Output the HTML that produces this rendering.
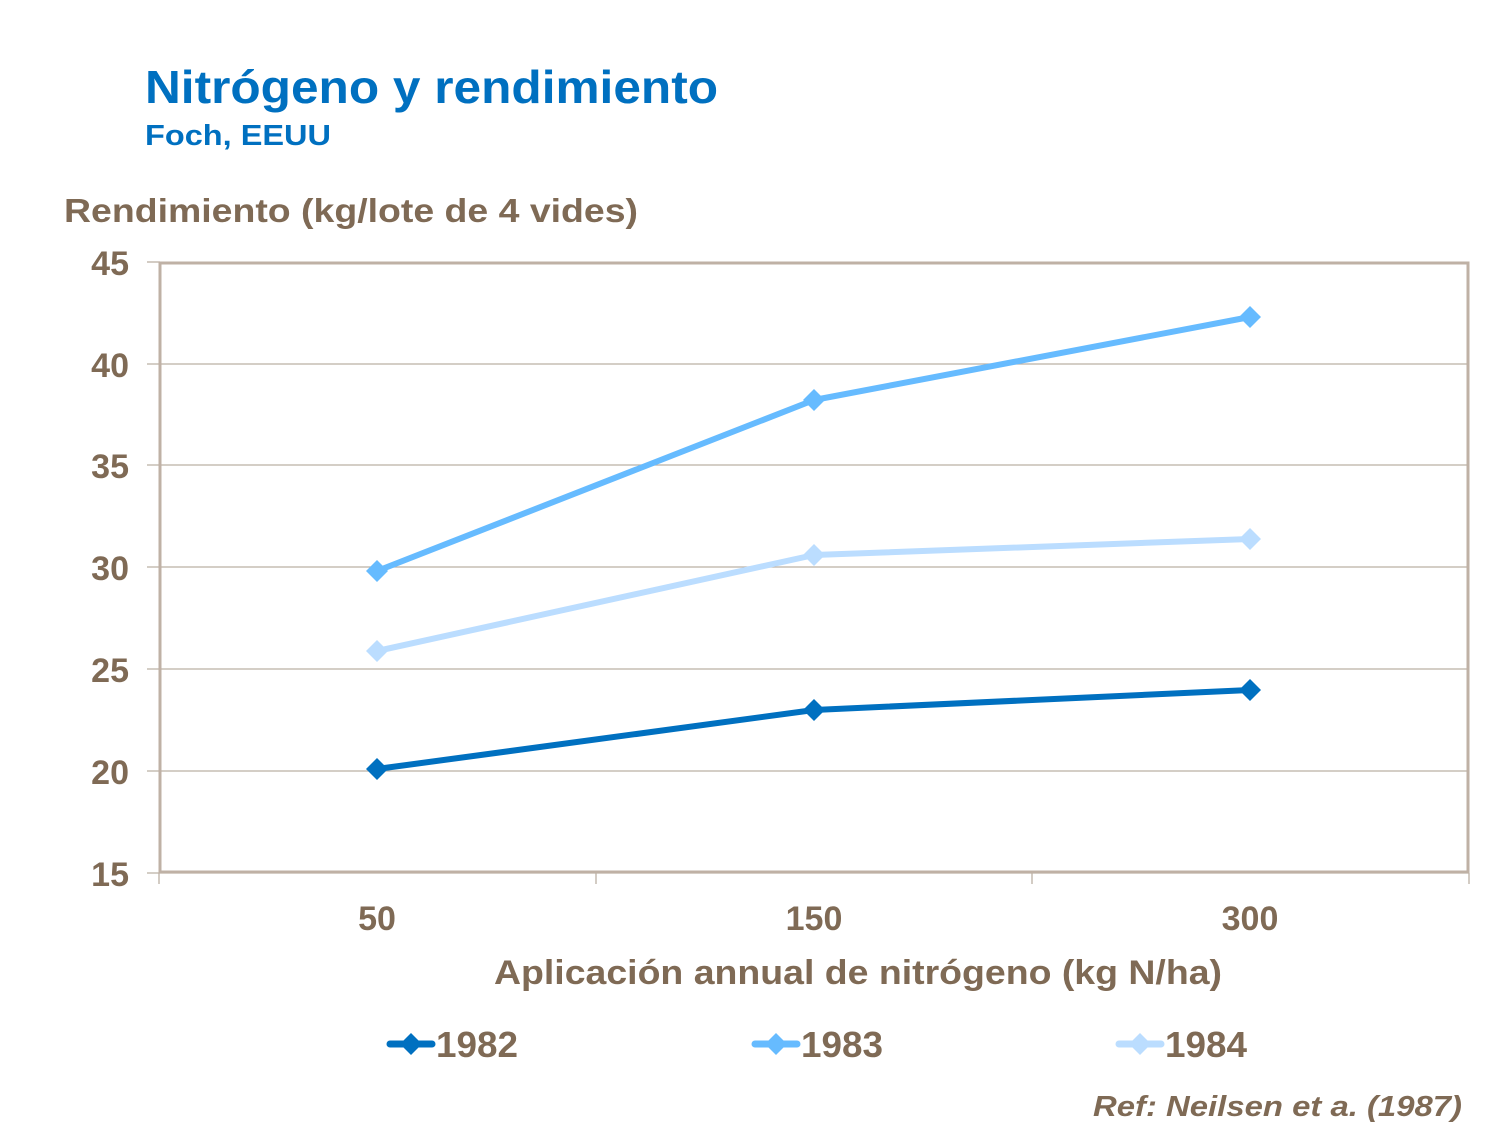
<!DOCTYPE html>
<html><head><meta charset="utf-8"><style>
html,body{margin:0;padding:0;background:#fff;}
svg{display:block;}
text{font-family:"Liberation Sans",Arial,sans-serif;font-weight:bold;}
</style></head><body>
<svg width="1500" height="1125" viewBox="0 0 1500 1125" xmlns="http://www.w3.org/2000/svg">
<text x="145" y="103" font-size="46" fill="#0070C0" textLength="573" lengthAdjust="spacingAndGlyphs">Nitrógeno y rendimiento</text>
<text x="145" y="145" font-size="29" fill="#0070C0" textLength="186" lengthAdjust="spacingAndGlyphs">Foch, EEUU</text>
<text x="64" y="222" font-size="33" fill="#7F6A55" textLength="574" lengthAdjust="spacingAndGlyphs">Rendimiento (kg/lote de 4 vides)</text>
<g stroke="#BBB0A3" stroke-width="1.3">
<line x1="147" y1="364" x2="1469" y2="364"/>
<line x1="147" y1="465" x2="1469" y2="465"/>
<line x1="147" y1="567" x2="1469" y2="567"/>
<line x1="147" y1="669" x2="1469" y2="669"/>
<line x1="147" y1="771" x2="1469" y2="771"/>
<line x1="147" y1="262" x2="160" y2="262"/>
<line x1="147" y1="873" x2="1469" y2="873"/>
<line x1="159" y1="873" x2="159" y2="884"/>
<line x1="596" y1="873" x2="596" y2="884"/>
<line x1="1032" y1="873" x2="1032" y2="884"/>
<line x1="1469" y1="873" x2="1469" y2="884"/>
</g>
<rect x="160" y="263" width="1308" height="609" fill="none" stroke="#BFB1A5" stroke-width="3"/>
<g font-size="34" fill="#7F6A55" text-anchor="end">
<text x="129" y="275">45</text><text x="129" y="377">40</text><text x="129" y="478">35</text>
<text x="129" y="580">30</text><text x="129" y="682">25</text><text x="129" y="784">20</text><text x="129" y="886">15</text>
</g>
<g font-size="34" fill="#7F6A55" text-anchor="middle">
<text x="377" y="930">50</text><text x="814" y="930">150</text><text x="1250" y="930">300</text>
</g>
<text x="494" y="984" font-size="34" fill="#7F6A55" textLength="728" lengthAdjust="spacingAndGlyphs">Aplicación annual de nitrógeno (kg N/ha)</text>
<g fill="none" stroke-width="6" stroke-linejoin="round">
<polyline points="377,769 814,710 1250,690" stroke="#0070C0"/>
<polyline points="377,571 814,400 1250,317" stroke="#66BBFF"/>
<polyline points="377,651 814,555 1250,539" stroke="#BBDDFF"/>
</g>
<g fill="#0070C0"><path d="M377,758l11,11l-11,11l-11,-11z"/><path d="M814,699l11,11l-11,11l-11,-11z"/><path d="M1250,679l11,11l-11,11l-11,-11z"/></g>
<g fill="#66BBFF"><path d="M377,560l11,11l-11,11l-11,-11z"/><path d="M814,389l11,11l-11,11l-11,-11z"/><path d="M1250,306l11,11l-11,11l-11,-11z"/></g>
<g fill="#BBDDFF"><path d="M377,640l11,11l-11,11l-11,-11z"/><path d="M814,544l11,11l-11,11l-11,-11z"/><path d="M1250,528l11,11l-11,11l-11,-11z"/></g>
<g stroke-width="7" stroke-linecap="round">
<line x1="390" y1="1044" x2="432" y2="1044" stroke="#0070C0"/>
<line x1="755" y1="1044" x2="797" y2="1044" stroke="#66BBFF"/>
<line x1="1119" y1="1044" x2="1161" y2="1044" stroke="#BBDDFF"/>
</g>
<path d="M411,1033l11,11l-11,11l-11,-11z" fill="#0070C0"/>
<path d="M776,1033l11,11l-11,11l-11,-11z" fill="#66BBFF"/>
<path d="M1140,1033l11,11l-11,11l-11,-11z" fill="#BBDDFF"/>
<g font-size="36" fill="#7F6A55">
<text x="436" y="1057" textLength="82" lengthAdjust="spacingAndGlyphs">1982</text><text x="801" y="1057" textLength="82" lengthAdjust="spacingAndGlyphs">1983</text><text x="1165" y="1057" textLength="82" lengthAdjust="spacingAndGlyphs">1984</text>
</g>
<text x="1093" y="1116" font-size="29" fill="#7F6A55" font-style="italic" textLength="369" lengthAdjust="spacingAndGlyphs">Ref: Neilsen et a. (1987)</text>
</svg>
</body></html>
